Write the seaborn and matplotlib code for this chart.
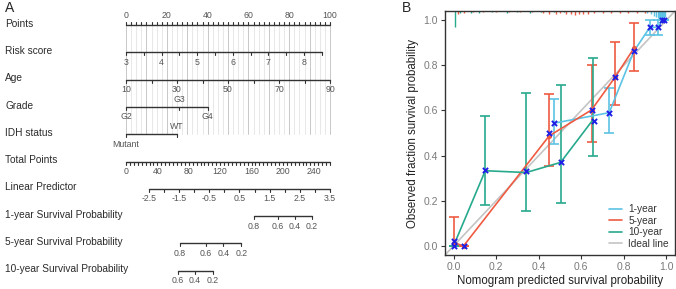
import numpy as np
import pandas as pd
import matplotlib
matplotlib.use('Agg')
import matplotlib.pyplot as plt
import matplotlib.transforms as mtrans
from matplotlib.lines import Line2D
import seaborn as sns

# ---- 패널 A : nomogram 값 ----
row_names = ['Points', 'Risk score', 'Age', 'Grade', 'IDH status', 'Total Points',
             'Linear Predictor', '1-year Survival Probability',
             '5-year Survival Probability', '10-year Survival Probability']

points_lab = [0, 20, 40, 60, 80, 100]
risk_vals = [3, 3.5, 4, 4.5, 5, 5.5, 6, 6.5, 7, 7.5, 8, 8.5]
risk_lab = [3, 4, 5, 6, 7, 8]
risk_range_pts = [0, 96]          # 3 -> 0 점, 8.5 -> 96 점
age_vals = [10, 20, 30, 40, 50, 60, 70, 80, 90]
age_lab = [10, 30, 50, 70, 90]
age_range_pts = [0, 100]
grade_names = ['G2', 'G3', 'G4']
grade_pts = [0, 26, 40]
idh_names = ['Mutant', 'WT']
idh_pts = [0, 25]
total_lab = [0, 40, 80, 120, 160, 200, 240]
total_max = 260
lp_vals = [-2.5, -2, -1.5, -1, -0.5, 0, 0.5, 1, 1.5, 2, 2.5, 3, 3.5]
lp_lab = [-2.5, -1.5, -0.5, 0.5, 1.5, 2.5, 3.5]
lp_total = [29.3, 260]            # -2.5 / 3.5 에 해당하는 total points
surv1_lab = [0.8, 0.6, 0.4, 0.2]
surv1_total = [163, 194, 215, 237]
surv5_lab = [0.8, 0.6, 0.4, 0.2]
surv5_total = [69, 102, 124, 147]
surv10_lab = [0.6, 0.4, 0.2]
surv10_total = [66, 88, 111]

# ---- 패널 B : calibration 값 ----
yr1_x = [0.47, 0.731, 0.847, 0.922, 0.961, 0.98, 0.99]
yr1_y = [0.543, 0.59, 0.862, 0.968, 0.968, 1.0, 1.0]
yr1_lo = [0.45, 0.50, np.nan, 0.935, 0.935, 1.0, 1.0]
yr1_hi = [0.65, 0.70, np.nan, 1.0, 1.0, 1.0, 1.0]

yr5_x = [0.0, 0.047, 0.449, 0.648, 0.76, 0.847]
yr5_y = [0.015, 0.0, 0.487, 0.602, 0.749, 0.875]
yr5_lo = [0.0, 0.0, 0.355, 0.46, 0.622, 0.776]
yr5_hi = [0.127, 0.0, 0.671, 0.80, 0.904, 0.985]

yr10_x = [0.0, 0.149, 0.341, 0.503, 0.656]
yr10_y = [0.0, 0.333, 0.325, 0.37, 0.56]
yr10_lo = [0.0, 0.181, 0.155, 0.19, 0.40]
yr10_hi = [0.0, 0.575, 0.676, 0.712, 0.83]

corr_x = [0.0, 0.0, 0.047, 0.149, 0.341, 0.449, 0.47, 0.503, 0.648, 0.66,
          0.731, 0.76, 0.847, 0.922, 0.961, 0.98, 0.99]
corr_y = [0.0, 0.02, 0.0, 0.335, 0.333, 0.50, 0.543, 0.37, 0.60, 0.555,
          0.59, 0.75, 0.862, 0.968, 0.968, 1.0, 1.0]

# 상단 분포(스파이크 히스토그램)
rug5_x = [0.02, 0.05, 0.09, 0.14, 0.2, 0.26, 0.31, 0.37, 0.42, 0.45, 0.48, 0.5, 0.53,
          0.55, 0.57, 0.59, 0.61, 0.63, 0.66, 0.7, 0.74, 0.78, 0.82, 0.86, 0.9]
rug5_h = [0.012, 0.008, 0.006, 0.006, 0.006, 0.006, 0.006, 0.006, 0.01, 0.012, 0.012,
          0.01, 0.014, 0.012, 0.016, 0.012, 0.014, 0.012, 0.01, 0.008, 0.01, 0.008,
          0.008, 0.008, 0.01]
rug10_x = [0.005, 0.03, 0.08, 0.12, 0.18, 0.25, 0.3, 0.36, 0.41, 0.47, 0.52]
rug10_h = [0.07, 0.01, 0.008, 0.008, 0.006, 0.008, 0.006, 0.008, 0.006, 0.006, 0.006]
rug1_x = [0.91, 0.925, 0.94, 0.95, 0.96, 0.965, 0.97, 0.975, 0.98, 0.985, 0.99, 0.995]
rug1_h = [0.01, 0.012, 0.02, 0.025, 0.03, 0.035, 0.03, 0.035, 0.03, 0.035, 0.03, 0.025]

c1, c5, c10 = '#5cc3e4', '#ef5b42', '#27a98d'

sns.set_theme(style='white')
plt.rcParams['font.family'] = ['Liberation Sans', 'DejaVu Sans']

fig = plt.figure(figsize=(6.76, 2.89), dpi=100)

# ================= A =================
axA = fig.add_axes([0, 0, 345 / 676, 1])
axA.set_xlim(-126 / 2.04, (345 - 126) / 2.04)
axA.set_ylim((289 - 25) / 27.3, -25 / 27.3)
axA.axis('off')

lc = '#333333'
tc = '#555555'
tfs = 6.3
tl = 0.11


def draw_scale(row, pos, lab_pos, labels, up=False, lab_above=False):
    axA.plot([min(pos), max(pos)], [row, row], color=lc, lw=1.0)
    d = -tl if up else tl
    for p in pos:
        axA.plot([p, p], [row, row + d], color=lc, lw=0.8)
    for p, t in zip(lab_pos, labels):
        if lab_above:
            axA.text(p, row - 0.2, t, ha='center', va='bottom', fontsize=tfs, color=tc)
        else:
            axA.text(p, row + 0.2, t, ha='center', va='top', fontsize=tfs, color=tc)


def fmt(v):
    return f'{v:g}'


# 격자선
for g in np.arange(0, 100.1, 2.5):
    col = '#c8c8c8' if g % 10 == 0 else '#e8e8e8'
    axA.plot([g, g], [0, 4], color=col, lw=0.7, zorder=0)

# Points
draw_scale(0, np.arange(0, 100.1, 2.5), points_lab, [fmt(v) for v in points_lab],
           up=True, lab_above=True)

# Risk score
rs = np.array(risk_vals)
rs_pts = (rs - 3) / (8.5 - 3) * (risk_range_pts[1] - risk_range_pts[0])
rl_pts = (np.array(risk_lab) - 3) / (8.5 - 3) * risk_range_pts[1]
draw_scale(1, rs_pts, rl_pts, [fmt(v) for v in risk_lab])

# Age
ag = np.array(age_vals)
ag_pts = (ag - 10) / 80 * age_range_pts[1]
al_pts = (np.array(age_lab) - 10) / 80 * age_range_pts[1]
draw_scale(2, ag_pts, al_pts, [fmt(v) for v in age_lab])

# Grade
draw_scale(3, grade_pts, [grade_pts[0], grade_pts[2]], [grade_names[0], grade_names[2]])
axA.text(grade_pts[1], 3 - 0.12, grade_names[1], ha='center', va='bottom', fontsize=tfs, color=tc)

# IDH
draw_scale(4, idh_pts, [idh_pts[0]], [idh_names[0]])
axA.text(idh_pts[1], 4 - 0.12, idh_names[1], ha='center', va='bottom', fontsize=tfs, color=tc)

# Total points (points 축으로 환산)
k = 100 / total_max
draw_scale(5, np.arange(0, total_max + 0.1, 5) * k, np.array(total_lab) * k,
           [fmt(v) for v in total_lab])

# Linear predictor
lp = np.array(lp_vals)
lp_tp = lp_total[0] + (lp - lp_vals[0]) / (lp_vals[-1] - lp_vals[0]) * (lp_total[1] - lp_total[0])
lpl_tp = lp_total[0] + (np.array(lp_lab) - lp_vals[0]) / (lp_vals[-1] - lp_vals[0]) * (lp_total[1] - lp_total[0])
draw_scale(6, lp_tp * k, lpl_tp * k, [fmt(v) for v in lp_lab])

# Survival
draw_scale(7, np.array(surv1_total) * k, np.array(surv1_total) * k, [fmt(v) for v in surv1_lab])
draw_scale(8, np.array(surv5_total) * k, np.array(surv5_total) * k, [fmt(v) for v in surv5_lab])
draw_scale(9, np.array(surv10_total) * k, np.array(surv10_total) * k, [fmt(v) for v in surv10_lab])

trans = mtrans.blended_transform_factory(axA.transAxes, axA.transData)
for i, name in enumerate(row_names):
    axA.text(5 / 345, i - 0.05, name, transform=trans, ha='left', va='center',
             fontsize=7.3, color='#2b2b2b')

fig.text(5 / 676, 1 - 8 / 289, 'A', fontsize=10, va='center', ha='left')

# ================= B =================
axB = fig.add_axes([445 / 676, 1 - 255 / 289, (675 - 445) / 676, (255 - 11) / 289])
axB.set_xlim(-0.04, 1.04)
axB.set_ylim(-0.04, 1.04)

axB.axline((0, 0), (1, 1), color='#c4c4c4', lw=1.2, zorder=1)

df = pd.concat([
    pd.DataFrame({'pred': yr1_x, 'obs': yr1_y, 'group': '1-year'}),
    pd.DataFrame({'pred': yr5_x, 'obs': yr5_y, 'group': '5-year'}),
    pd.DataFrame({'pred': yr10_x, 'obs': yr10_y, 'group': '10-year'}),
])
pal = {'1-year': c1, '5-year': c5, '10-year': c10}
sns.lineplot(data=df, x='pred', y='obs', hue='group', palette=pal, sort=False,
             estimator=None, legend=False, lw=1.2, ax=axB, zorder=3)

for xs, ys, lo, hi, c in [(yr1_x, yr1_y, yr1_lo, yr1_hi, c1),
                           (yr5_x, yr5_y, yr5_lo, yr5_hi, c5),
                           (yr10_x, yr10_y, yr10_lo, yr10_hi, c10)]:
    ys = np.array(ys)
    lo = np.array(lo)
    hi = np.array(hi)
    axB.errorbar(xs, ys, yerr=[ys - lo, hi - ys], fmt='none', ecolor=c,
                 elinewidth=1.2, capsize=3.5, capthick=1.2, zorder=2)

axB.scatter(yr5_x, yr5_y, s=14, color=c5, zorder=4, linewidths=0)
axB.scatter(corr_x, corr_y, marker='x', s=14, color='#1f1fe6', linewidths=1.4, zorder=5)

for xs, hs, c in [(rug5_x, rug5_h, c5), (rug10_x, rug10_h, c10), (rug1_x, rug1_h, c1)]:
    axB.vlines(xs, 1.04 - np.array(hs), 1.04, colors=c, lw=1.0, zorder=2)

axB.set_xticks([0, 0.2, 0.4, 0.6, 0.8, 1.0])
axB.set_yticks([0, 0.2, 0.4, 0.6, 0.8, 1.0])
axB.xaxis.set_major_formatter(matplotlib.ticker.FormatStrFormatter('%.1f'))
axB.yaxis.set_major_formatter(matplotlib.ticker.FormatStrFormatter('%.1f'))
axB.tick_params(axis='both', length=3, width=0.8, color='#333333', labelsize=7.5,
                labelcolor='#7a7a7a', pad=2, bottom=True, left=True)
for s in axB.spines.values():
    s.set_color('#333333')
    s.set_linewidth(1.0)
axB.set_xlabel('Nomogram predicted survival probability', fontsize=8.3, color='#222222', labelpad=2)
axB.set_ylabel('Observed fraction survival probability', fontsize=8.3, color='#222222', labelpad=3)

handles = [Line2D([], [], color=c1, lw=1.2), Line2D([], [], color=c5, lw=1.2),
           Line2D([], [], color=c10, lw=1.2), Line2D([], [], color='#c4c4c4', lw=1.2)]
axB.legend(handles, ['1-year', '5-year', '10-year', 'Ideal line'], loc='lower right',
           frameon=False, fontsize=7.3, handlelength=1.3, handletextpad=0.6,
           labelspacing=0.15, borderaxespad=0.2, labelcolor='#333333')

fig.text(402 / 676, 1 - 8 / 289, 'B', fontsize=10, va='center', ha='left')

fig.savefig('out.png', dpi=100)
